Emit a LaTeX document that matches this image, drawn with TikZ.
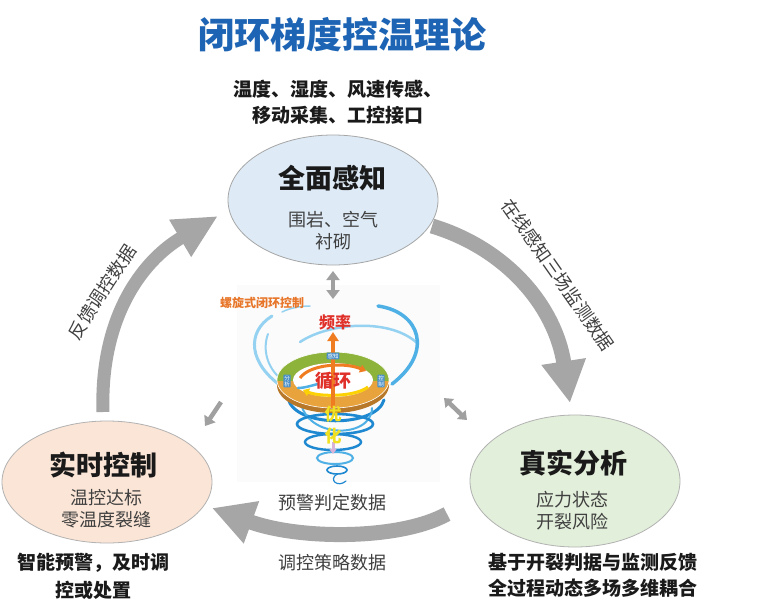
\documentclass[tikz,border=0pt]{standalone}
\usepackage{fontspec}
\setmainfont{Noto Sans CJK SC}
\usetikzlibrary{arrows.meta,shapes.geometric}
\definecolor{titleblue}{HTML}{1E64B4}
\definecolor{bigarrow}{HTML}{A6A6A6}
\definecolor{smallarrow}{HTML}{A0A0A0}
\definecolor{txt}{HTML}{1A1A1A}
\definecolor{subtxt}{HTML}{404040}
\definecolor{fillblue}{HTML}{DEEBF7}
\definecolor{fillgreen}{HTML}{E2EFDA}
\definecolor{fillpeach}{HTML}{FBE5D6}
\definecolor{swirldark}{HTML}{1E88D0}
\definecolor{swirlmid}{HTML}{4FB0E5}
\definecolor{swirllight}{HTML}{95D2F2}
\definecolor{ringgreen}{HTML}{8DB33A}
\definecolor{ringorange}{HTML}{E8A33C}
\definecolor{ringside}{HTML}{B7782A}
\definecolor{redtxt}{HTML}{E0302A}
\definecolor{orangetxt}{HTML}{E8762A}
\definecolor{arrorange}{HTML}{F07C22}
\definecolor{yellowtxt}{HTML}{F0E020}
\definecolor{labelblue}{HTML}{4A90C8}
\newcommand\myfs[2]{\fontsize{#1}{#2}\selectfont}
\begin{document}
\begin{tikzpicture}[x=1pt,y=-1pt,
  bigarr/.style={draw=bigarrow,line width=15pt,-{Triangle[length=42pt,width=42pt]}},
  smallarr/.style={draw=smallarrow,line width=4.5pt},
  headtxt/.style={text=txt,font=\myfs{27}{30}\bfseries},
  subtext/.style={text=subtxt,font=\myfs{18}{22},align=center},
  annot/.style={text=txt,font=\myfs{19}{26}\bfseries,align=center},
  flowtxt/.style={text=subtxt,font=\myfs{18}{22}},
  ringlabel/.style={fill=labelblue,text=white,font=\myfs{5.5}{6},inner sep=0.8pt,rounded corners=0.8pt,align=center},
  swirlD/.style={draw=swirldark,line cap=round},
  swirlL/.style={draw=swirllight,line cap=round},
  swirlM/.style={draw=swirlmid,line cap=round}]
\useasboundingbox (0,0) rectangle (760,611);
\fill[white] (0,0) rectangle (760,611);

% title
\node[text=titleblue,font=\myfs{36}{40}\bfseries] (title) at (342,35) {闭环梯度控温理论};

% ellipses
\node[ellipse,draw=black!35,fill=fillblue,line width=0.8pt,minimum width=210pt,minimum height=130pt] (perc) at (333,200) {};
\node[ellipse,draw=black!30,fill=fillgreen,line width=0.8pt,minimum width=210pt,minimum height=132pt] (anal) at (575,481) {};
\node[ellipse,draw=black!30,fill=fillpeach,line width=0.8pt,minimum width=210pt,minimum height=122pt] (ctrl) at (107,482) {};

\node[headtxt] (percT) at (332,178) {全面感知};
\node[subtext] (percS) at (333,231) {围岩、空气\\衬砌};
\node[headtxt] (analT) at (573,463) {真实分析};
\node[subtext] (analS) at (572,511) {应力状态\\开裂风险};
\node[headtxt] (ctrlT) at (103,465) {实时控制};
\node[subtext] (ctrlS) at (106,509) {温控达标\\零温度裂缝};

% annotations
\node[annot] (topnote) at (338,102) {温度、湿度、风速传感、\\移动采集、工控接口};
\node[annot] (rightnote) at (593,575) {基于开裂判据与监测反馈\\全过程动态多场多维耦合};
\node[annot,font=\myfs{19}{28}\bfseries] (leftnote) at (93,576) {智能预警，及时调\\控或处置};

% big arrows
\coordinate (a1s) at (432,226);
\coordinate (a1e) at (570,403);
\coordinate (a2s) at (447,514);
\coordinate (a2e) at (212,508);
\coordinate (a3s) at (103,412);
\coordinate (a3e) at (218,216);
\draw[bigarr] (a1s) .. controls (505,248) and (555,305) .. (a1e);
\draw[bigarr] (a2s) .. controls (400,540) and (300,540) .. (a2e);
\draw[bigarr,line width=13pt,-{Triangle[length=44pt,width=40pt]}] (a3s) .. controls (100,320) and (140,262) .. (a3e);

\node[flowtxt,rotate=-55] (lab1) at (558,275) {在线感知三场监测数据};
\node[flowtxt] (lab2) at (332,503) {预警判定数据};
\node[flowtxt] (lab3) at (332,563) {调控策略数据};
\node[flowtxt,rotate=57] (lab4) at (102,292) {反馈调控数据};

% central illustration background
\fill[black!1.5] (237,285) rectangle (440,482);

% small arrows
\coordinate (s1a) at (333,271);
\coordinate (s1b) at (333,299);
\coordinate (s2a) at (444,398);
\coordinate (s2b) at (467,420);
\coordinate (s3a) at (221,402);
\coordinate (s3b) at (205,426);
\draw[smallarr,{Triangle[length=9pt,width=13pt]}-{Triangle[length=9pt,width=13pt]}] (s1a) -- (s1b);
\draw[smallarr,{Triangle[length=8pt,width=12pt]}-{Triangle[length=8pt,width=12pt]}] (s2a) -- (s2b);
\draw[smallarr,-{Triangle[length=9pt,width=13pt]}] (s3a) -- (s3b);

% swirls (tornado)
\draw[swirlL,line width=3pt] (272,316) .. controls (246,332) and (248,364) .. (284,388);
\draw[swirlL,line width=2.5pt] (300,342) .. controls (330,322) and (392,318) .. (418,344);
\draw[swirlM,line width=3.5pt] (378,306) .. controls (420,312) and (434,352) .. (392,384);
\draw[swirlL,line width=2pt] (268,334) .. controls (262,350) and (268,368) .. (280,378);
\draw[swirlL,line width=1.5pt] (282,312) .. controls (290,308) and (300,306) .. (310,306);
\draw[swirlD,line width=3pt] (288,398) .. controls (294,428) and (376,428) .. (384,400);
\draw[swirlM,line width=2pt] (300,395) .. controls (300,440) and (372,440) .. (372,408);
\draw[swirlD,line width=2.6pt] (335,424) ellipse [x radius=38, y radius=10];
\draw[swirlD,line width=2.4pt] (333,442) ellipse [x radius=28, y radius=8];
\draw[swirlM,line width=2pt] (335,458) ellipse [x radius=18, y radius=6];
\draw[swirlD,line width=1.6pt] (337,470) ellipse [x radius=10, y radius=4];
\draw[swirlD,line width=1.2pt] (337,474) .. controls (328,480) and (338,488) .. (346,481);

% ring
\fill[ringside] (333,385) ellipse [x radius=56, y radius=28];
\begin{scope}
\clip (270,330) rectangle (400,381);
\fill[ringgreen,even odd rule] (333,380) ellipse [x radius=56, y radius=28] (333,380) ellipse [x radius=40, y radius=17];
\end{scope}
\begin{scope}
\clip (270,381) rectangle (400,430);
\fill[ringorange,even odd rule] (333,380) ellipse [x radius=56, y radius=28] (333,380) ellipse [x radius=40, y radius=17];
\end{scope}
\fill[white] (333,380) ellipse [x radius=40, y radius=17];
\draw[white,line width=0.6pt] (333,380) ellipse [x radius=56, y radius=28];

% inner arrows
\draw[arrorange,line width=3pt,-{Triangle[length=6pt,width=8pt]}] (300,378) .. controls (310,364) and (345,362) .. (366,371);
\draw[yellow!70!orange,line width=3pt,-{Triangle[length=6pt,width=8pt]}] (368,387) .. controls (355,397) and (320,397) .. (303,390);
\draw[swirlmid,line width=2.5pt,line cap=round] (318,384) .. controls (310,386) and (304,388) .. (298,388);

% orange vertical arrow
\draw[arrorange,line width=4pt,-{Triangle[length=9pt,width=11pt]}] (333,408) -- (333,332);
\draw[violet!30,line width=3pt,-{Triangle[length=5pt,width=7pt]}] (333,442) -- (333,454);

% ring labels
\node[ringlabel] (lgz) at (333,356) {感知};
\node[ringlabel] (lfx) at (287,381) {分\\析};
\node[ringlabel] (lkz) at (381,381) {控\\制};

% center texts
\node[text=redtxt,font=\myfs{18}{20}\bfseries] (xh) at (333,381) {循环};
\node[text=redtxt,font=\myfs{16}{18}\bfseries] (pl) at (335,322) {频率};
\node[text=yellowtxt,font=\myfs{17}{22}\bfseries,align=center] (yh) at (333,425) {优\\化};
\node[text=orangetxt,font=\myfs{12}{14}\bfseries] (lx) at (262,303) {螺旋式闭环控制};
\end{tikzpicture}
\end{document}
